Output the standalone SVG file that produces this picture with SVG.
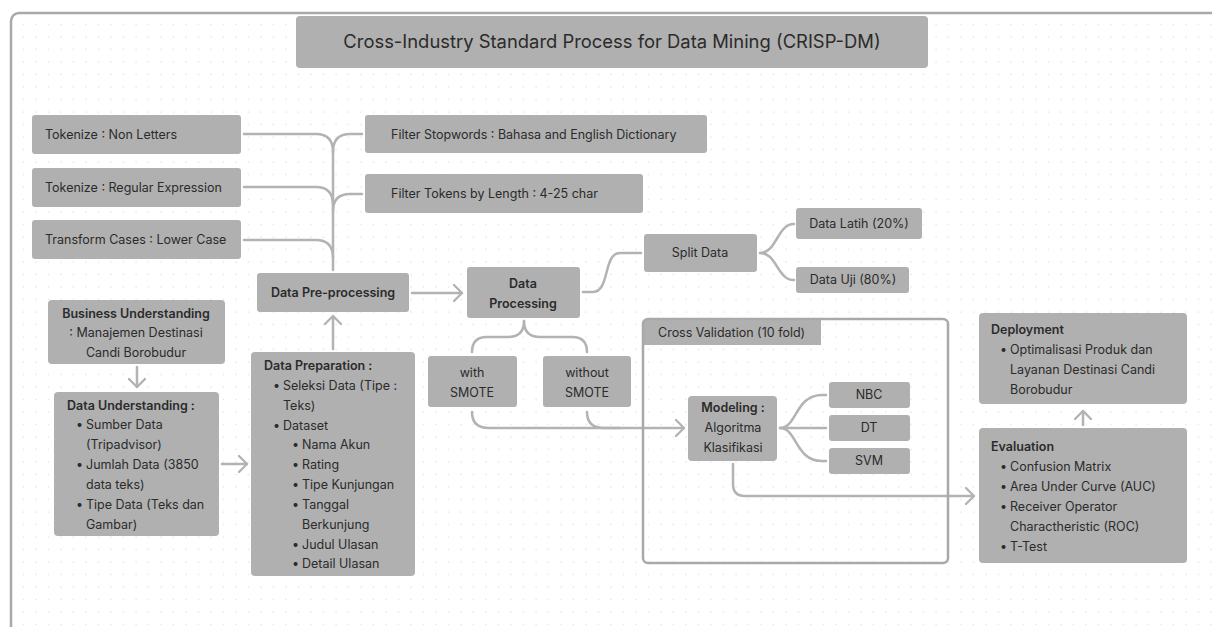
<svg xmlns="http://www.w3.org/2000/svg" width="1212" height="627" viewBox="0 0 1212 627">
  <defs>
    <pattern id="dots" x="5" y="6" width="12.5" height="12.5" patternUnits="userSpaceOnUse">
      <circle cx="6" cy="6" r="0.7" fill="#d9d9d9"/>
    </pattern>
    <marker id="arr" viewBox="0 0 10 18" refX="9" refY="9" markerWidth="10" markerHeight="18" markerUnits="userSpaceOnUse" orient="auto">
      <path d="M1,1 L9,9 L1,17" fill="none" stroke="#b3b3b3" stroke-width="2.4" stroke-linecap="round" stroke-linejoin="round"/>
    </marker>
    <style>
      .box { fill: #b0b0b0; }
      .t { font-family: Inter, "Noto Sans", "Liberation Sans", sans-serif; font-size: 12.5px; fill: #2b2b2b; }
      .b { font-weight: 600; }
      .c { text-anchor: middle; }
      .ln { fill: none; stroke: #b3b3b3; stroke-width: 2.5; stroke-linecap: round; }
      .frame { fill: none; stroke: #a9a9a9; stroke-width: 2.5; }
    </style>
  </defs>

  <!-- canvas -->
  <rect x="0" y="0" width="1212" height="627" fill="#ffffff"/>
  <rect x="11" y="13" width="1220" height="640" rx="8" fill="url(#dots)"/>
  <rect x="11" y="13" width="1220" height="640" rx="8" class="frame"/>

  <!-- title -->
  <g id="title">
    <rect x="296" y="16" width="632" height="52" rx="4" class="box"/>
    <text x="612" y="48" class="t c" style="font-size:18.4px">Cross-Industry Standard Process for Data Mining (CRISP-DM)</text>
  </g>

  <!-- connectors -->
  <g id="connectors">
    <path class="ln" d="M244,134 H316 Q333,134 333,152"/>
    <path class="ln" d="M244,187 H316 Q333,187 333,205"/>
    <path class="ln" d="M244,240 H316 Q333,240 333,258"/>
    <path class="ln" d="M333,152 Q333,134 350,134 H362"/>
    <path class="ln" d="M333,211 Q333,194 350,194 H362"/>
    <path class="ln" d="M333,152 V270"/>
    <path class="ln" d="M412,293 H462" marker-end="url(#arr)"/>
    <path class="ln" d="M583,292 H593 C610,292 603,253 620,253 H641"/>
    <path class="ln" d="M760,253 C777,253 777,224 794,224"/>
    <path class="ln" d="M760,253 C777,253 777,280 794,280"/>
    <path class="ln" d="M524,321 Q524,337 508,337 H487 Q472,337 472,352"/>
    <path class="ln" d="M524,321 Q524,337 540,337 H572 Q587,337 587,352"/>
    <path class="ln" d="M472,412 Q472,428 489,428 H684" marker-end="url(#arr)"/>
    <path class="ln" d="M587,412 Q587,428 604,428 H620"/>
    <path class="ln" d="M780,428 C797,428 795,395 822,395 H826"/>
    <path class="ln" d="M780,428 H826"/>
    <path class="ln" d="M780,428 C797,428 795,461 822,461 H826"/>
    <path class="ln" d="M733,464 V484 Q733,496 745,496 H974" marker-end="url(#arr)"/>
    <path class="ln" d="M1083,425 V411" marker-end="url(#arr)"/>
    <path class="ln" d="M137,367 V387" marker-end="url(#arr)"/>
    <path class="ln" d="M222,464 H247" marker-end="url(#arr)"/>
    <path class="ln" d="M333,349 V316" marker-end="url(#arr)"/>
  </g>

  <!-- preprocessing steps -->
  <g id="tok-nonletters">
    <rect x="32" y="115" width="209" height="39" rx="3" class="box"/>
    <text x="45" y="139" class="t">Tokenize : Non Letters</text>
  </g>
  <g id="tok-regex">
    <rect x="32" y="168" width="209" height="39" rx="3" class="box"/>
    <text x="45" y="192" class="t">Tokenize : Regular Expression</text>
  </g>
  <g id="transform-cases">
    <rect x="32" y="220" width="209" height="39" rx="3" class="box"/>
    <text x="45" y="244" class="t">Transform Cases : Lower Case</text>
  </g>
  <g id="filter-stopwords">
    <rect x="365" y="115" width="342" height="38" rx="3" class="box"/>
    <text x="391" y="139" class="t">Filter Stopwords : Bahasa and English Dictionary</text>
  </g>
  <g id="filter-tokens">
    <rect x="365" y="174" width="278" height="39" rx="3" class="box"/>
    <text x="391" y="198" class="t">Filter Tokens by Length : 4-25 char</text>
  </g>

  <g id="data-preprocessing">
    <rect x="257" y="273" width="152" height="39" rx="3" class="box"/>
    <text x="333" y="297" class="t b c">Data Pre-processing</text>
  </g>
  <g id="data-processing">
    <rect x="467" y="267" width="113" height="51" rx="3" class="box"/>
    <text x="523" y="288" class="t b c">Data</text>
    <text x="523" y="308" class="t b c">Processing</text>
  </g>
  <g id="split-data">
    <rect x="644" y="234" width="113" height="38" rx="3" class="box"/>
    <text x="700" y="257" class="t c">Split Data</text>
  </g>
  <g id="data-latih">
    <rect x="796" y="208" width="126" height="31" rx="3" class="box"/>
    <text x="859" y="228" class="t c">Data Latih (20%)</text>
  </g>
  <g id="data-uji">
    <rect x="796" y="267" width="113" height="26" rx="3" class="box"/>
    <text x="853" y="284" class="t c">Data Uji (80%)</text>
  </g>
  <g id="with-smote">
    <rect x="428" y="356" width="89" height="51" rx="3" class="box"/>
    <text x="472" y="377" class="t c">with</text>
    <text x="472" y="397" class="t c">SMOTE</text>
  </g>
  <g id="without-smote">
    <rect x="543" y="356" width="88" height="51" rx="3" class="box"/>
    <text x="587" y="377" class="t c">without</text>
    <text x="587" y="397" class="t c">SMOTE</text>
  </g>

  <!-- cross validation container -->
  <g id="cross-validation">
    <path d="M643,563 V324 Q643,319 648,319 H821 V345 H643 Z" class="box"/>
    <rect x="643" y="319" width="305" height="244" rx="5" class="frame"/>
    <text x="658" y="337" class="t">Cross Validation (10 fold)</text>
  </g>
  <g id="modeling">
    <rect x="688" y="396" width="89" height="65" rx="4" class="box"/>
    <text x="733" y="412" class="t b c">Modeling :</text>
    <text x="733" y="432" class="t c">Algoritma</text>
    <text x="733" y="452" class="t c">Klasifikasi</text>
  </g>
  <g id="nbc">
    <rect x="829" y="382" width="81" height="26" rx="3" class="box"/>
    <text x="869" y="399" class="t c">NBC</text>
  </g>
  <g id="dt">
    <rect x="829" y="415" width="81" height="26" rx="3" class="box"/>
    <text x="869" y="432" class="t c">DT</text>
  </g>
  <g id="svm">
    <rect x="829" y="448" width="81" height="26" rx="3" class="box"/>
    <text x="869" y="465" class="t c">SVM</text>
  </g>

  <g id="deployment">
    <rect x="979" y="313" width="208" height="91" rx="4" class="box"/>
    <text x="991" y="334" class="t b">Deployment</text>
    <text x="1000" y="354" class="t">•</text>
    <text x="1010" y="354" class="t">Optimalisasi Produk dan</text>
    <text x="1010" y="374" class="t">Layanan Destinasi Candi</text>
    <text x="1010" y="394" class="t">Borobudur</text>
  </g>
  <g id="evaluation">
    <rect x="979" y="428" width="208" height="135" rx="4" class="box"/>
    <text x="991" y="451" class="t b">Evaluation</text>
    <text x="1000" y="471" class="t">•</text>
    <text x="1010" y="471" class="t">Confusion Matrix</text>
    <text x="1000" y="491" class="t">•</text>
    <text x="1010" y="491" class="t">Area Under Curve (AUC)</text>
    <text x="1000" y="511" class="t">•</text>
    <text x="1010" y="511" class="t">Receiver Operator</text>
    <text x="1010" y="531" class="t">Charactheristic (ROC)</text>
    <text x="1000" y="551" class="t">•</text>
    <text x="1010" y="551" class="t">T-Test</text>
  </g>

  <g id="business-understanding">
    <rect x="48" y="300" width="177" height="64" rx="4" class="box"/>
    <text x="136" y="318" class="t b c">Business Understanding</text>
    <text x="136" y="337" class="t c">: Manajemen Destinasi</text>
    <text x="136" y="357" class="t c">Candi Borobudur</text>
  </g>
  <g id="data-understanding">
    <rect x="54" y="392" width="165" height="144" rx="4" class="box"/>
    <text x="67" y="410" class="t b">Data Understanding :</text>
    <text x="76" y="429" class="t">•</text>
    <text x="86" y="429" class="t">Sumber Data</text>
    <text x="86" y="449" class="t">(Tripadvisor)</text>
    <text x="76" y="469" class="t">•</text>
    <text x="86" y="469" class="t">Jumlah Data (3850</text>
    <text x="86" y="489" class="t">data teks)</text>
    <text x="76" y="509" class="t">•</text>
    <text x="86" y="509" class="t">Tipe Data (Teks dan</text>
    <text x="86" y="529" class="t">Gambar)</text>
  </g>
  <g id="data-preparation">
    <rect x="251" y="352" width="164" height="224" rx="4" class="box"/>
    <text x="264" y="370" class="t b">Data Preparation :</text>
    <text x="273" y="390" class="t">•</text>
    <text x="283" y="390" class="t">Seleksi Data (Tipe :</text>
    <text x="283" y="410" class="t">Teks)</text>
    <text x="273" y="430" class="t">•</text>
    <text x="283" y="430" class="t">Dataset</text>
    <text x="292" y="449" class="t">•</text>
    <text x="302" y="449" class="t">Nama Akun</text>
    <text x="292" y="469" class="t">•</text>
    <text x="302" y="469" class="t">Rating</text>
    <text x="292" y="489" class="t">•</text>
    <text x="302" y="489" class="t">Tipe Kunjungan</text>
    <text x="292" y="509" class="t">•</text>
    <text x="302" y="509" class="t">Tanggal</text>
    <text x="302" y="529" class="t">Berkunjung</text>
    <text x="292" y="549" class="t">•</text>
    <text x="302" y="549" class="t">Judul Ulasan</text>
    <text x="292" y="568" class="t">•</text>
    <text x="302" y="568" class="t">Detail Ulasan</text>
  </g>
</svg>
